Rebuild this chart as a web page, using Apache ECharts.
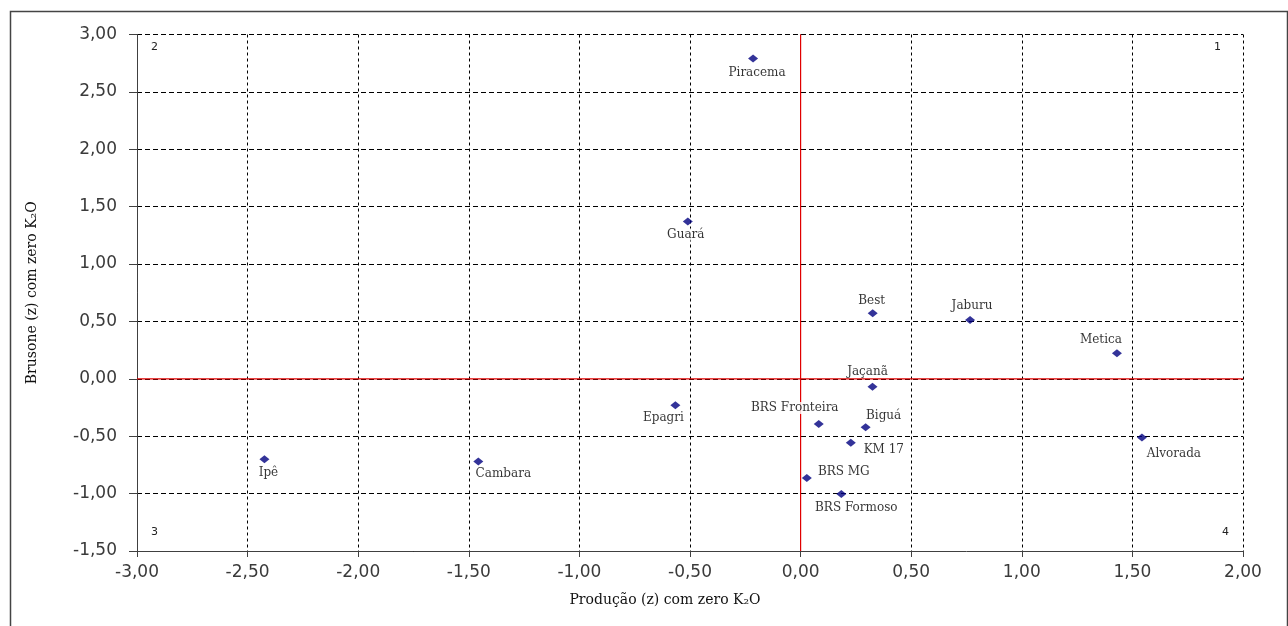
<!DOCTYPE html>
<html>
<head>
<meta charset="utf-8">
<script src="https://cdn.jsdelivr.net/npm/echarts@6/dist/echarts.min.js"></script>
<style>
html,body{margin:0;padding:0;background:#fff;}
#chart{width:1288px;height:626px;}
</style>
</head>
<body>
<div id="chart"></div>
<script>
// ---- data ----
const cultivars = ['Piracema','Guará','Best','Jaburu','Metica','Jaçanã','Epagri','BRS Fronteira','Biguá','KM 17','Alvorada','Ipê','Cambara','BRS MG','BRS Formoso'];
const producao  = [-0.215, -0.51, 0.326, 0.766, 1.430, 0.325, -0.566, 0.082, 0.294, 0.227, 1.543, -2.424, -1.457, 0.028, 0.184];
const brusone   = [ 2.79,  1.37, 0.571, 0.513, 0.223, -0.068, -0.23, -0.393, -0.422, -0.556, -0.512, -0.70, -0.721, -0.863, -1.003];
const quadrantLabels = ['1','2','3','4'];
const xTitle = 'Produção (z) com zero K\u2082O';
const yTitle = 'Brusone (z) com zero K\u2082O';
const xRange = [-3, 2];
const yRange = [-1.5, 3];

// label placement (pixel offsets from the marker), not data
const labelOffsets = {
  'Piracema':[4,14], 'Guará':[-2,13], 'Best':[-1,-12], 'Jaçanã':[-5,-15],
  'Epagri':[-12,13], 'BRS Fronteira':[-24,-16], 'Biguá':[18,-11], 'KM 17':[33,7],
  'BRS MG':[37,-6], 'BRS Formoso':[15,14], 'Jaburu':[2,-14], 'Metica':[-16,-13],
  'Alvorada':[32,16], 'Ipê':[4,14], 'Cambara':[25,12]
};

const fmt = v => v.toFixed(2).replace('.', ',');

const points = cultivars.map((n, i) => ({
  name: n,
  value: [producao[i], brusone[i]],
  label: { offset: labelOffsets[n] }
}));

const redLine = { color: '#e00000', type: 'solid', width: 1.2 };

const chart = echarts.init(document.getElementById('chart'), null, {renderer:'canvas'});
chart.setOption({
  animation: false,
  backgroundColor: '#fff',
  grid: { left: 137, right: 45, top: 34.5, bottom: 75, containLabel: false },
  xAxis: {
    type: 'value', min: xRange[0], max: xRange[1], interval: 0.5,
    axisLine: { show: true, onZero: false, lineStyle: { color: '#404040', width: 1 } },
    axisTick: { show: true, length: 6, lineStyle: { color: '#404040' } },
    axisLabel: { formatter: fmt, margin: 13, fontFamily: 'DejaVu Sans', fontSize: 17, color: '#3a3a3a' },
    splitLine: { show: true, lineStyle: { color: '#000', type: [3,3], width: 1 } },
    name: xTitle, nameLocation: 'middle', nameGap: 42,
    nameTextStyle: { fontFamily: 'DejaVu Serif', fontSize: 14, color: '#111', padding: [0, 50, 0, 0] }
  },
  yAxis: {
    type: 'value', min: yRange[0], max: yRange[1], interval: 0.5,
    axisLine: { show: true, onZero: false, lineStyle: { color: '#404040', width: 1 } },
    axisTick: { show: true, length: 8, lineStyle: { color: '#404040' } },
    axisLabel: { formatter: fmt, margin: 20, fontFamily: 'DejaVu Sans', fontSize: 17, color: '#3a3a3a' },
    splitLine: { show: true, lineStyle: { color: '#000', type: [5,3], width: 1 } },
    name: yTitle, nameLocation: 'middle', nameGap: 98, nameRotate: 90,
    nameTextStyle: { fontFamily: 'DejaVu Serif', fontSize: 14, color: '#111' }
  },
  series: [{
    type: 'line', data: [[0, yRange[0]], [0, yRange[1]]],
    symbol: 'none', silent: true, lineStyle: redLine, z: 10
  }, {
    type: 'line', data: [[xRange[0], 0], [xRange[1], 0]],
    symbol: 'none', silent: true, lineStyle: redLine, z: 10
  }, {
    type: 'scatter',
    symbol: 'diamond',
    symbolSize: [10, 8],
    itemStyle: { color: '#000080' },
    data: points,
    label: {
      show: true, position: 'inside', formatter: '{b}',
      fontFamily: 'DejaVu Serif', fontSize: 12, color: '#000',
      backgroundColor: '#fff', padding: [0, 2]
    },
    z: 20
  }],
  graphic: [
    { type: 'rect', left: 8, top: 9, z: -1, silent: true,
      shape: { width: 1277, height: 640 },
      style: { fill: 'none', stroke: '#444', lineWidth: 1.5 } },
    { type: 'text', left: 1214, top: 42, style: { text: quadrantLabels[0], font: '11px "DejaVu Sans"', fill: '#222' } },
    { type: 'text', left: 151, top: 42, style: { text: quadrantLabels[1], font: '11px "DejaVu Sans"', fill: '#222' } },
    { type: 'text', left: 151, top: 527, style: { text: quadrantLabels[2], font: '11px "DejaVu Sans"', fill: '#222' } },
    { type: 'text', left: 1222, top: 527, style: { text: quadrantLabels[3], font: '11px "DejaVu Sans"', fill: '#222' } }
  ]
});
</script>
</body>
</html>
